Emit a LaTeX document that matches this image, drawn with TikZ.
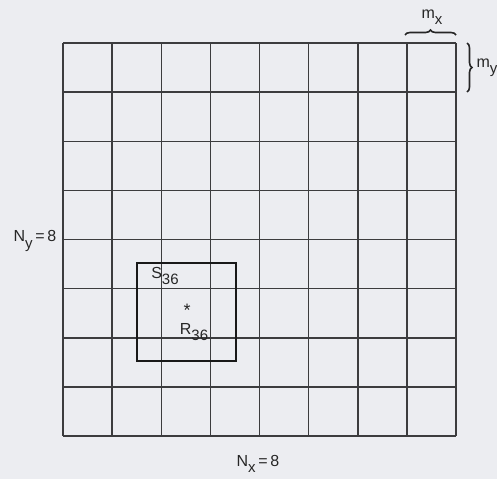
\documentclass[tikz,border=0pt]{standalone}
\usepackage{fontspec}
\setmainfont{Liberation Sans}
\usetikzlibrary{decorations.pathreplacing}
\definecolor{paper}{RGB}{236,237,241}
\definecolor{ink}{RGB}{60,60,62}
\newcommand\lowsub[1]{\raisebox{-0.4em}{\fontsize{15}{15}\selectfont #1}}
\tikzset{
  gridline/.style={draw=ink, line width=1.5pt},
  boxline/.style={draw=black!90, line width=2pt},
  lbl/.style={font=\fontsize{16}{18}\selectfont, text=black!85, inner sep=0pt},
  bracestyle/.style={draw=black!85, line width=1.6pt, decorate, decoration={brace, amplitude=5pt}}
}
\begin{document}
\begin{tikzpicture}[x=1pt,y=-1pt]
\fill[paper] (0,0) rectangle (497,479);
\useasboundingbox (0,0) rectangle (497,479);
% grid
\foreach \i in {0,...,8} {
  \draw[gridline] ({63+49.125*\i},43) -- ({63+49.125*\i},436);
  \draw[gridline] (63,{43+49.125*\i}) -- (456,{43+49.125*\i});
}
% window S36
\draw[boxline] (137,263) rectangle (235.5,361);
% labels
\node[lbl] (s) at (165,276) {S\lowsub{36}};
\node[lbl, font=\fontsize{18}{18}\selectfont] (ast) at (187,310) {*};
\node[lbl] (r) at (194,332) {R\lowsub{36}};
\node[lbl] (ny) at (35,241) {N\lowsub{y}\,=\,8};
\node[lbl] (nx) at (258,464) {N\lowsub{x}\,=\,8};
\node[lbl] (mx) at (432,17) {m\lowsub{x}};
\node[lbl] (my) at (487,68) {m\lowsub{y}};
% braces
\coordinate (mxa) at (405,35);
\coordinate (mxb) at (456,35);
\coordinate (mya) at (467,43);
\coordinate (myb) at (467,92);
\draw[bracestyle] (mxa) -- (mxb);
\draw[bracestyle] (mya) -- (myb);
\end{tikzpicture}
\end{document}
